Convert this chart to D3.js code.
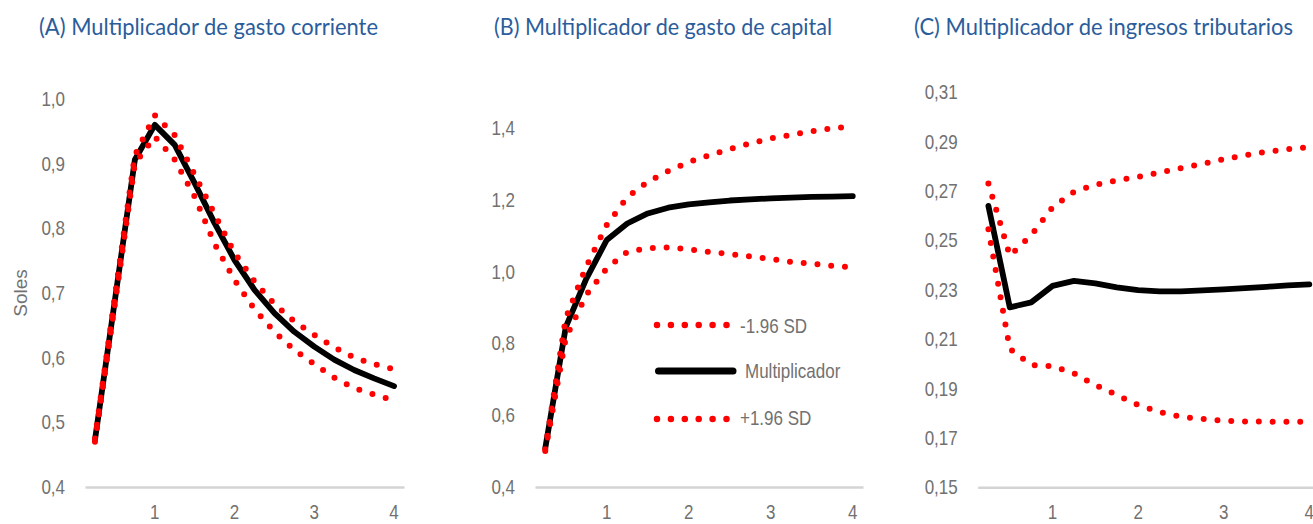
<!DOCTYPE html>
<html>
<head>
<meta charset="utf-8">
<script src="https://cdn.jsdelivr.net/npm/d3@7"></script>
<style>
  body { margin: 0; background: #fff; }
  svg { display: block; }
</style>
</head>
<body>
<svg id="chart" width="1313" height="524"></svg>
<script>
// Quarterly horizons 1..16 (four years), labelled once per year
const quarters = d3.range(1, 17);
const xTickLabels = ["1", "2", "3", "4"];

const panelTitles = [
  "(A) Multiplicador de gasto corriente",
  "(B) Multiplicador de gasto de capital",
  "(C) Multiplicador de ingresos tributarios"
];
const legendLabels = ["-1.96 SD", "Multiplicador", "+1.96 SD"];
const yAxisTitle = "Soles";

// (A) gasto corriente
const corrienteMult = [0.473, 0.689, 0.906, 0.960, 0.929, 0.870, 0.808, 0.751, 0.705, 0.669, 0.640, 0.617, 0.597, 0.581, 0.568, 0.556];
const corrienteHigh = [0.475, 0.695, 0.913, 0.975, 0.944, 0.883, 0.822, 0.762, 0.718, 0.683, 0.656, 0.635, 0.616, 0.600, 0.590, 0.582];
const corrienteLow  = [0.470, 0.683, 0.900, 0.942, 0.906, 0.849, 0.776, 0.720, 0.675, 0.640, 0.612, 0.590, 0.569, 0.553, 0.543, 0.534];
const corrienteTicks = [0.4, 0.5, 0.6, 0.7, 0.8, 0.9, 1.0];

// (B) gasto de capital
const capitalMult = [0.508, 0.845, 0.980, 1.088, 1.134, 1.162, 1.178, 1.187, 1.193, 1.198, 1.201, 1.204, 1.206, 1.208, 1.209, 1.210];
const capitalHigh = [0.505, 0.870, 1.014, 1.130, 1.207, 1.250, 1.280, 1.305, 1.324, 1.341, 1.357, 1.371, 1.381, 1.391, 1.399, 1.405];
const capitalLow  = [0.500, 0.815, 0.935, 1.009, 1.055, 1.065, 1.067, 1.062, 1.055, 1.049, 1.042, 1.035, 1.027, 1.022, 1.016, 1.012];
const capitalTicks = [0.4, 0.6, 0.8, 1.0, 1.2, 1.4];

// (C) ingresos tributarios
const tributMult = [0.2640, 0.2229, 0.2249, 0.2316, 0.2336, 0.2326, 0.2310, 0.2299, 0.2294, 0.2294, 0.2298, 0.2302, 0.2307, 0.2312, 0.2318, 0.2322];
const tributHigh = [0.2731, 0.2438, 0.2521, 0.2634, 0.2697, 0.2725, 0.2743, 0.2757, 0.2775, 0.2793, 0.2810, 0.2829, 0.2845, 0.2859, 0.2870, 0.2877];
const tributLow  = [0.2545, 0.2061, 0.1995, 0.1991, 0.1962, 0.1914, 0.1874, 0.1833, 0.1805, 0.1786, 0.1777, 0.1770, 0.1767, 0.1766, 0.1766, 0.1766];
const tributTicks = [0.15, 0.17, 0.19, 0.21, 0.23, 0.25, 0.27, 0.29, 0.31];

const TITLE_COLOR = "#2b5d9b";
const LABEL_COLOR = "#717171";
const RED = "#ff0000";
const TEXT_FONT = "'Liberation Sans', Arial, sans-serif";
const TEXT_SIZE = 17;
const STRETCH = "scale(1,1.2)";

const panels = [
  { title: panelTitles[0], titleX: 39, titleW: 339, x0: 85, x1: 404, y0: 487, y1: 99,
    domain: [0.4, 1.0], ticks: corrienteTicks, digits: 1,
    mult: corrienteMult, low: corrienteLow, high: corrienteHigh, yTitle: true },
  { title: panelTitles[1], titleX: 494, titleW: 338, x0: 535, x1: 863, y0: 487, y1: 128,
    domain: [0.4, 1.4], ticks: capitalTicks, digits: 1,
    mult: capitalMult, low: capitalLow, high: capitalHigh, legend: true },
  { title: panelTitles[2], titleX: 914, titleW: 379, x0: 977.7, x1: 1320, y0: 487.3, y1: 92.3,
    domain: [0.15, 0.31], ticks: tributTicks, digits: 2,
    mult: tributMult, low: tributLow, high: tributHigh }
];

const svg = d3.select("#chart");
const fmt = digits => d => d.toFixed(digits).replace(".", ",");

panels.forEach(p => {
  const g = svg.append("g");

  // panel title
  g.append("text")
    .attr("x", p.titleX).attr("y", 35)
    .attr("textLength", p.titleW).attr("lengthAdjust", "spacingAndGlyphs")
    .attr("fill", TITLE_COLOR)
    .style("font-family", "Lato, 'Open Sans', sans-serif")
    .style("font-size", "23px")
    .text(p.title);

  const x = d3.scaleBand().domain(quarters).range([p.x0, p.x1]);
  const y = d3.scaleLinear().domain(p.domain).range([p.y0, p.y1]);

  // value axis: labels only
  const yAxis = g.append("g")
    .attr("transform", `translate(${p.x0},0)`)
    .call(d3.axisLeft(y).tickValues(p.ticks).tickFormat(fmt(p.digits)).tickSize(0).tickPadding(20));
  yAxis.select(".domain").remove();
  yAxis.selectAll("text")
    .attr("transform", STRETCH)
    .attr("fill", LABEL_COLOR)
    .style("font-family", TEXT_FONT).style("font-size", TEXT_SIZE + "px");

  // category axis: baseline plus yearly labels
  const xAxis = g.append("g")
    .attr("transform", `translate(0,${p.y0})`)
    .call(d3.axisBottom(x).tickSize(0)
      .tickFormat(d => (d % 4 === 0 ? xTickLabels[d / 4 - 1] : "")));
  xAxis.select(".domain").attr("stroke", "#d4d4d4").attr("stroke-width", 2.5);
  xAxis.selectAll("text")
    .attr("y", 0).attr("dy", null)
    .attr("transform", "translate(0,32) " + STRETCH)
    .attr("fill", LABEL_COLOR)
    .style("font-family", TEXT_FONT).style("font-size", TEXT_SIZE + "px");

  const line = d3.line()
    .x((d, i) => x(quarters[i]) + x.bandwidth() / 2)
    .y(d => y(d));

  g.append("path").datum(p.mult)
    .attr("d", line).attr("fill", "none")
    .attr("stroke", "#000").attr("stroke-width", 5.8)
    .attr("stroke-linejoin", "round").attr("stroke-linecap", "round");

  [p.low, p.high].forEach(series => {
    g.append("path").datum(series)
      .attr("d", line).attr("fill", "none")
      .attr("stroke", RED).attr("stroke-width", 6)
      .attr("stroke-linecap", "round")
      .attr("stroke-dasharray", "0 13.8");
  });

  if (p.yTitle) {
    g.append("text")
      .attr("transform", "translate(27,293) rotate(-90)")
      .attr("text-anchor", "middle")
      .attr("fill", LABEL_COLOR)
      .style("font-family", TEXT_FONT).style("font-size", "19px")
      .text(yAxisTitle);
  }

  if (p.legend) {
    const lg = g.append("g");
    const rows = [
      { label: legendLabels[0], dotted: true, ly: 325, tx: 740, ty: 333 },
      { label: legendLabels[1], dotted: false, ly: 371, tx: 745, ty: 378 },
      { label: legendLabels[2], dotted: true, ly: 419, tx: 740, ty: 425 }
    ];
    rows.forEach(r => {
      if (r.dotted) {
        lg.append("line")
          .attr("x1", 657).attr("x2", 728).attr("y1", r.ly).attr("y2", r.ly)
          .attr("stroke", RED).attr("stroke-width", 6.5)
          .attr("stroke-linecap", "round").attr("stroke-dasharray", "0 13.9");
      } else {
        lg.append("line")
          .attr("x1", 658.5).attr("x2", 733).attr("y1", r.ly).attr("y2", r.ly)
          .attr("stroke", "#000").attr("stroke-width", 7)
          .attr("stroke-linecap", "round");
      }
      lg.append("text")
        .attr("transform", `translate(${r.tx},${r.ty}) ${STRETCH}`)
        .attr("fill", LABEL_COLOR)
        .style("font-family", TEXT_FONT).style("font-size", TEXT_SIZE + "px")
        .text(r.label);
    });
  }
});
</script>
</body>
</html>
